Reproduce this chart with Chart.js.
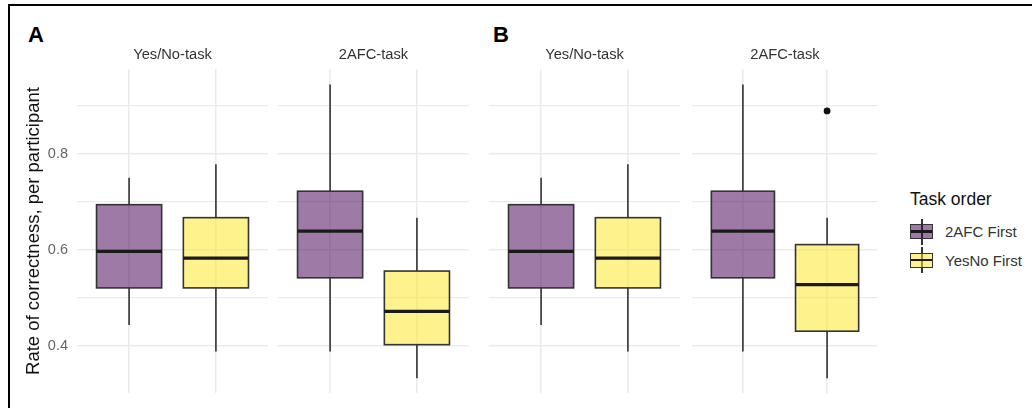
<!DOCTYPE html>
<html>
<head>
<meta charset="utf-8">
<script src="https://cdn.jsdelivr.net/npm/chart.js@4.4.1/dist/chart.umd.min.js"></script>
<style>
  html, body { margin: 0; padding: 0; background: #fff; }
  #page { position: relative; width: 1032px; height: 408px; overflow: hidden; background: #fff;
          font-family: "Liberation Sans", Arial, sans-serif; }
  .frame { position: absolute; left: 8px; top: 4px; width: 1100px; height: 500px;
           border-top: 2px solid #000; border-left: 2px solid #000; }
  .panel { position: absolute; top: 40px; }
  .tag { position: absolute; top: 24px; font-size: 22px; font-weight: bold; line-height: 1; color: #000; }
  .leg-title { position: absolute; left: 910px; top: 191px; font-size: 17.5px; line-height: 1; color: #111; }
  .leg-label { position: absolute; left: 945px; font-size: 15px; line-height: 1; color: #333; }
  .key { position: absolute; left: 910px; width: 24px; height: 26px; }
  .key .wh { position: absolute; left: 11px; top: 0; width: 1.6px; height: 26px; background: #333; }
  .key .bx { position: absolute; left: 0; top: 5.5px; width: 21px; height: 13px; border: 1.5px solid #333; }
  .key .md { position: absolute; left: 0; top: 5.2px; width: 21px; height: 2.6px; background: #1a1a1a; }
</style>
</head>
<body>
<div id="page">
  <div class="frame"></div>
  <div class="tag" style="left:28px">A</div>
  <div class="tag" style="left:493px">B</div>
  <div class="panel" style="left:0px"><canvas id="a1" width="268" height="378"></canvas></div>
  <div class="panel" style="left:278px"><canvas id="a2" width="191" height="378"></canvas></div>
  <div class="panel" style="left:489px"><canvas id="b1" width="191" height="378"></canvas></div>
  <div class="panel" style="left:689px"><canvas id="b2" width="192" height="378"></canvas></div>
  <div id="legend"></div>
</div>
<script>
const facetTitles = ['Yes/No-task', '2AFC-task'];
const orderGroups = ['2AFC First', 'YesNo First'];
const legendTitle = 'Task order';
const yAxisTitle = 'Rate of correctness, per participant';
const yTickValues = [0.4, 0.6, 0.8];
const yMinorValues = [0.5, 0.7, 0.9];

// one entry per box, in order:
// Yes/No-task 2AFC First, Yes/No-task YesNo First, 2AFC-task 2AFC First, 2AFC-task YesNo First
const aLow    = [0.444, 0.389, 0.389, 0.333];
const aQ1     = [0.521, 0.521, 0.542, 0.403];
const aMedian = [0.597, 0.583, 0.639, 0.472];
const aQ3     = [0.694, 0.667, 0.722, 0.556];
const aHigh   = [0.750, 0.778, 0.944, 0.667];
const aOutliers = [[], [], [], []];

const bLow    = [0.444, 0.389, 0.389, 0.333];
const bQ1     = [0.521, 0.521, 0.542, 0.431];
const bMedian = [0.597, 0.583, 0.639, 0.528];
const bQ3     = [0.694, 0.667, 0.722, 0.611];
const bHigh   = [0.750, 0.778, 0.944, 0.667];
const bOutliers = [[], [], [], [0.889]];

const FILLS = ['rgba(68, 1, 84, 0.52)', 'rgba(253, 231, 37, 0.52)'];
const EDGE = '#333333';
const GRID = '#ebebeb';
const BOX_HALF = 0.375;

Chart.defaults.font.family = '"Liberation Sans", Arial, sans-serif';

function boxesFor(low, q1, med, q3, high, outl, f) {
  return [0, 1].map(g => {
    const i = f * 2 + g;
    return { group: g, low: low[i], q1: q1[i], med: med[i], q3: q3[i], high: high[i], outliers: outl[i] };
  });
}

function boxPlotPlugin(boxes) {
  return {
    id: 'boxplot',
    beforeDatasetsDraw(chart) {
      const { ctx, scales: { x, y } } = chart;
      ctx.save();
      boxes.forEach((b, k) => {
        const cx = x.getPixelForValue(k + 1);
        const left = x.getPixelForValue(k + 1 - BOX_HALF);
        const right = x.getPixelForValue(k + 1 + BOX_HALF);
        const yLow = y.getPixelForValue(b.low);
        const yQ1 = y.getPixelForValue(b.q1);
        const yMed = y.getPixelForValue(b.med);
        const yQ3 = y.getPixelForValue(b.q3);
        const yHigh = y.getPixelForValue(b.high);
        // whiskers
        ctx.strokeStyle = EDGE;
        ctx.lineWidth = 1.6;
        ctx.beginPath();
        ctx.moveTo(cx, yHigh); ctx.lineTo(cx, yQ3);
        ctx.moveTo(cx, yQ1); ctx.lineTo(cx, yLow);
        ctx.stroke();
        // box
        ctx.fillStyle = FILLS[b.group];
        ctx.fillRect(left, yQ3, right - left, yQ1 - yQ3);
        ctx.strokeRect(left, yQ3, right - left, yQ1 - yQ3);
        // median
        ctx.strokeStyle = '#1a1a1a';
        ctx.lineWidth = 3.2;
        ctx.beginPath();
        ctx.moveTo(left, yMed); ctx.lineTo(right, yMed);
        ctx.stroke();
      });
      ctx.restore();
    }
  };
}

function makePanel(id, f, boxes, showY) {
  const yGrid = yTickValues.concat(yMinorValues).sort((p, q) => p - q);
  const outlierPts = boxes.flatMap((b, k) => b.outliers.map(v => ({ x: k + 1, y: v })));
  return new Chart(document.getElementById(id), {
    type: 'scatter',
    data: {
      datasets: [{
        data: outlierPts,
        pointRadius: 3.4,
        pointHoverRadius: 3.4,
        pointBackgroundColor: '#111',
        pointBorderWidth: 0
      }]
    },
    options: {
      responsive: false,
      animation: false,
      events: [],
      layout: { padding: 0 },
      plugins: {
        legend: { display: false },
        tooltip: { enabled: false },
        title: {
          display: true,
          text: facetTitles[f],
          fullSize: false,
          color: '#333',
          font: { size: 14.7, weight: 'normal' },
          padding: { top: 6.2, bottom: 5.2 }
        }
      },
      scales: {
        x: {
          type: 'linear',
          min: 0.4,
          max: 2.6,
          afterBuildTicks: s => { s.ticks = [1, 2].map(v => ({ value: v })); },
          afterFit: s => { s.height = 25; },
          ticks: { display: false },
          grid: { color: GRID, lineWidth: 1.6, drawTicks: false },
          border: { display: false }
        },
        y: {
          type: 'linear',
          min: 0.3025,
          max: 0.976,
          afterBuildTicks: s => { s.ticks = yGrid.map(v => ({ value: v })); },
          afterFit: s => { if (showY) s.width = 77; },
          ticks: {
            display: showY,
            padding: 9,
            color: '#666',
            font: { size: 14.5 },
            callback: v => yTickValues.includes(v) ? v.toFixed(1) : ''
          },
          grid: {
            drawTicks: false,
            color: GRID,
            lineWidth: c => yTickValues.includes(c.tick.value) ? 1.6 : 1.2
          },
          border: { display: false },
          title: {
            display: showY,
            text: yAxisTitle,
            color: '#111',
            font: { size: 18.5 },
            padding: { top: 23, bottom: 0 }
          }
        }
      }
    },
    plugins: [boxPlotPlugin(boxes)]
  });
}

makePanel('a1', 0, boxesFor(aLow, aQ1, aMedian, aQ3, aHigh, aOutliers, 0), true);
makePanel('a2', 1, boxesFor(aLow, aQ1, aMedian, aQ3, aHigh, aOutliers, 1), false);
makePanel('b1', 0, boxesFor(bLow, bQ1, bMedian, bQ3, bHigh, bOutliers, 0), false);
makePanel('b2', 1, boxesFor(bLow, bQ1, bMedian, bQ3, bHigh, bOutliers, 1), false);

// legend
const legend = document.getElementById('legend');
let html = '<div class="leg-title">' + legendTitle + '</div>';
orderGroups.forEach((name, g) => {
  const keyTop = 218.5 + g * 28.5;
  html += '<div class="key" style="top:' + keyTop + 'px"><div class="wh"></div>' +
    '<div class="bx" style="background:' + FILLS[g] + '"><div class="md"></div></div></div>';
  html += '<div class="leg-label" style="top:' + (224 + g * 28.5) + 'px">' + name + '</div>';
});
legend.innerHTML = html;
</script>
</body>
</html>
